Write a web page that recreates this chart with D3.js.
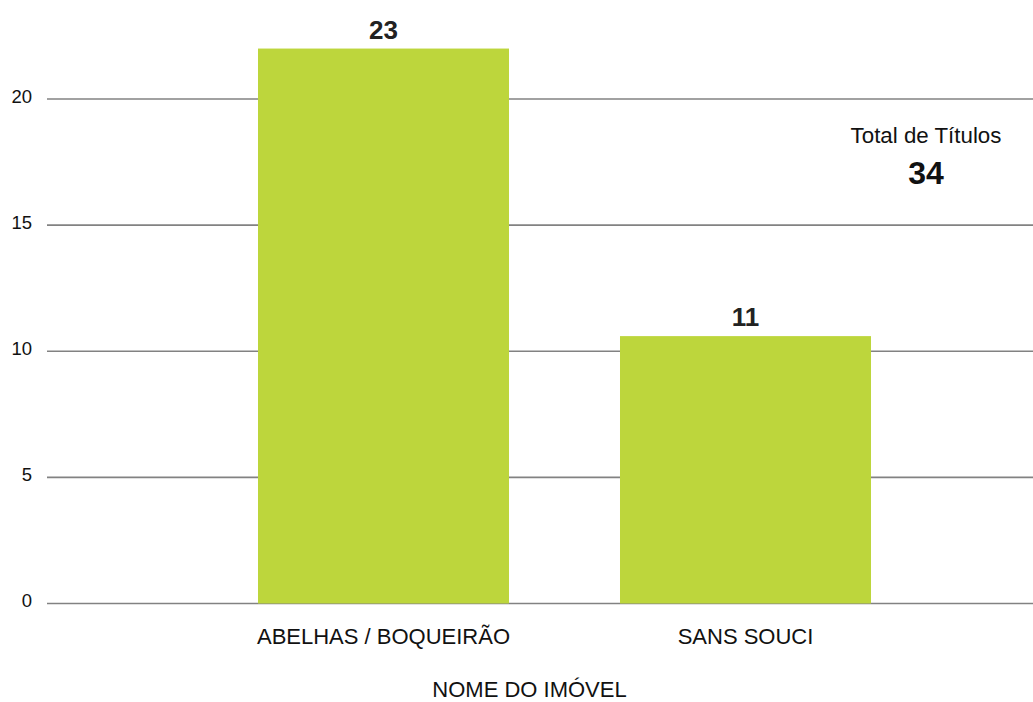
<!DOCTYPE html>
<html>
<head>
<meta charset="utf-8">
<script src="https://cdn.jsdelivr.net/npm/d3@7"></script>
<style>
  html, body { margin: 0; padding: 0; background: #fff; }
  svg { display: block; font-family: "Liberation Sans", Arial, Helvetica, sans-serif; }
</style>
</head>
<body>
<svg id="chart" width="1033" height="702"></svg>
<script>
// Data
const categories = ["ABELHAS / BOQUEIRÃO", "SANS SOUCI"];
const barValues = [22, 10.6];          // bar heights as drawn
const barLabels = ["23", "11"];        // value labels printed above bars
const yTicks = [0, 5, 10, 15, 20];
const totalTitle = "Total de Títulos";
const totalValue = "34";
const xAxisTitle = "NOME DO IMÓVEL";

const svg = d3.select("#chart");

const y = d3.scaleLinear().domain([0, 20]).range([603.5, 99]);
const x = d3.scaleBand().domain(categories).range([77, 1052])
  .paddingInner(0.3066).paddingOuter(0.5);

// gridlines
svg.append("g").selectAll("line").data(yTicks).join("line")
  .attr("x1", 47).attr("x2", 1033)
  .attr("y1", d => y(d)).attr("y2", d => y(d))
  .attr("stroke", "#828282").attr("stroke-width", 1.6);

// tick labels
svg.append("g").selectAll("text").data(yTicks).join("text")
  .attr("x", 32).attr("y", d => y(d) + 3.8)
  .attr("text-anchor", "end")
  .attr("font-size", 18.5).attr("fill", "#111")
  .text(d => d);

// bars
const data = categories.map((c, i) => ({ c, v: barValues[i], l: barLabels[i] }));
svg.append("g").selectAll("rect").data(data).join("rect")
  .attr("x", d => x(d.c)).attr("width", x.bandwidth())
  .attr("y", d => y(d.v)).attr("height", d => y(0) - y(d.v))
  .attr("fill", "#bdd63c");

// value labels
svg.append("g").selectAll("text").data(data).join("text")
  .attr("x", d => x(d.c) + x.bandwidth() / 2)
  .attr("y", d => y(d.v) - 9.8)
  .attr("text-anchor", "middle")
  .attr("font-size", 26).attr("font-weight", "bold").attr("fill", "#222")
  .text(d => d.l);

// category labels
svg.append("g").selectAll("text").data(categories).join("text")
  .attr("x", d => x(d) + x.bandwidth() / 2)
  .attr("y", 644)
  .attr("text-anchor", "middle")
  .attr("font-size", 22).attr("fill", "#111")
  .text(d => d);

// axis title
svg.append("text")
  .attr("x", 529.5).attr("y", 697)
  .attr("text-anchor", "middle")
  .attr("font-size", 22).attr("fill", "#111")
  .text(xAxisTitle);

// total
svg.append("text")
  .attr("x", 926).attr("y", 143)
  .attr("text-anchor", "middle")
  .attr("font-size", 22.3).attr("fill", "#111")
  .text(totalTitle);
svg.append("text")
  .attr("x", 926).attr("y", 184)
  .attr("text-anchor", "middle")
  .attr("font-size", 32).attr("font-weight", "bold").attr("fill", "#111")
  .text(totalValue);
</script>
</body>
</html>
